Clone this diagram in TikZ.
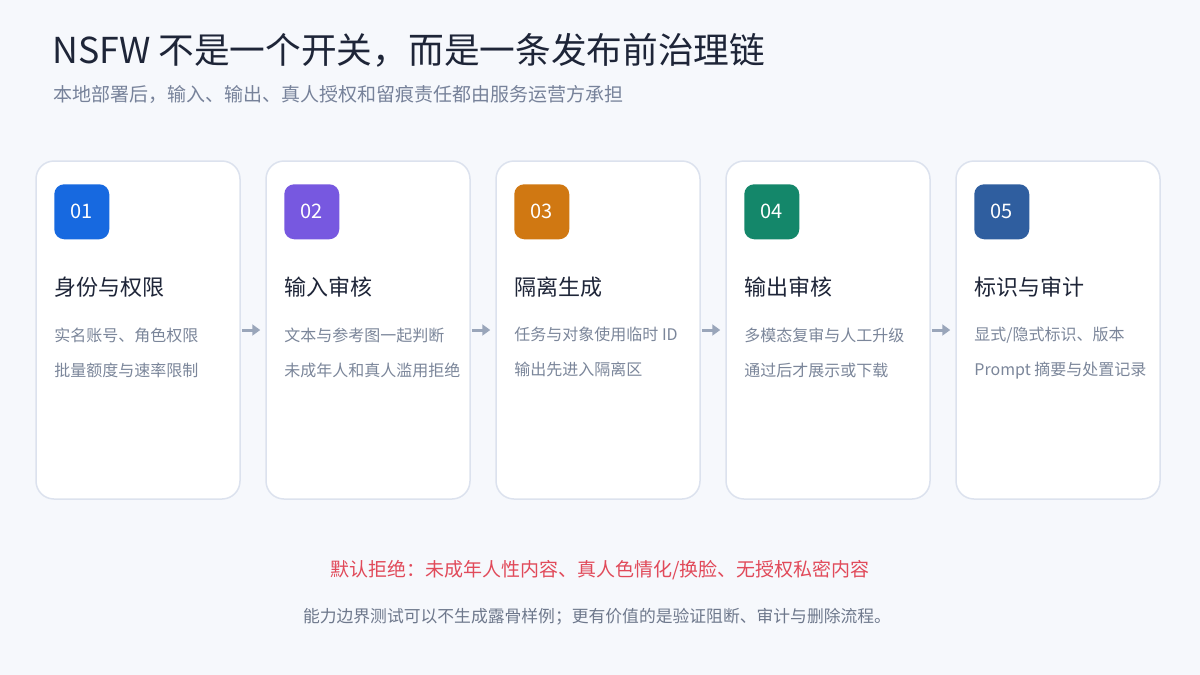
\documentclass[tikz,border=0pt]{standalone}
\usepackage{fontspec}
\setmainfont{Noto Sans CJK SC}
\usepackage{tikz}
\usetikzlibrary{arrows.meta, positioning}
\usepackage{xcolor}

\definecolor{pagebg}{HTML}{F6F8FC}
\definecolor{cardline}{HTML}{DCE2EE}
\definecolor{inkdark}{HTML}{1E2538}
\definecolor{inkgray}{HTML}{77829A}
\definecolor{bodygray}{HTML}{7B869A}
\definecolor{flowgray}{HTML}{9AA6BA}
\definecolor{alertred}{HTML}{E14A5A}
\definecolor{notegray}{HTML}{6E788C}
\definecolor{stepblue}{HTML}{1769E0}
\definecolor{steppurple}{HTML}{7758E0}
\definecolor{steporange}{HTML}{D07812}
\definecolor{stepgreen}{HTML}{14876A}
\definecolor{stepnavy}{HTML}{2F5E9F}

\begin{document}
\begin{tikzpicture}[
        x=1pt, y=-1pt,
        card/.style={draw=cardline, line width=1.5pt, fill=white, rounded corners=18pt, minimum width=204pt, minimum height=338pt, inner sep=0pt},
        badge/.style={rounded corners=10pt, minimum size=55pt, inner sep=0pt, text=white, font=\fontsize{20}{20}\selectfont},
        cardtitle/.style={anchor=west, inner sep=0pt, text=inkdark, font=\fontsize{22}{22}\selectfont},
        cardbody/.style={anchor=north west, inner sep=0pt, align=left, text=bodygray, font=\fontsize{16}{35}\selectfont},
        flow/.style={-{Triangle[length=8pt, width=11pt]}, line width=3pt, draw=flowgray, shorten <=1pt, shorten >=5pt}
    ]
        % Page
        \fill[pagebg] (0,0) rectangle (1200,675);
        \useasboundingbox (0,0) rectangle (1200,675);

        % Heading
        \node (title) [anchor=west, inner sep=0pt, text=inkdark, font=\fontsize{35.7}{35.7}\selectfont] at (52,50) {NSFW 不是一个开关，而是一条发布前治理链};
        \node (subtitle) [anchor=west, inner sep=0pt, text=inkgray, font=\fontsize{19}{19}\selectfont] at (53,94) {本地部署后，输入、输出、真人授权和留痕责任都由服务运营方承担};

        % Cards
        \node (c1) [card] at (138,330) {};
        \node (c2) [card, right=24.5pt of c1] {};
        \node (c3) [card, right=24.5pt of c2] {};
        \node (c4) [card, right=24.5pt of c3] {};
        \node (c5) [card, right=24.5pt of c4] {};

        % Step numbers
        \node (b1) [badge, fill=stepblue] at ([xshift=46.5pt, yshift=-51.5pt]c1.north west) {01};
        \node (b2) [badge, fill=steppurple] at ([xshift=46.5pt, yshift=-51.5pt]c2.north west) {02};
        \node (b3) [badge, fill=steporange] at ([xshift=46.5pt, yshift=-51.5pt]c3.north west) {03};
        \node (b4) [badge, fill=stepgreen] at ([xshift=46.5pt, yshift=-51.5pt]c4.north west) {04};
        \node (b5) [badge, fill=stepnavy] at ([xshift=46.5pt, yshift=-51.5pt]c5.north west) {05};

        % Step titles
        \node (t1) [cardtitle] at ([xshift=19pt, yshift=-127pt]c1.north west) {身份与权限};
        \node (t2) [cardtitle] at ([xshift=19pt, yshift=-127pt]c2.north west) {输入审核};
        \node (t3) [cardtitle] at ([xshift=19pt, yshift=-127pt]c3.north west) {隔离生成};
        \node (t4) [cardtitle] at ([xshift=19pt, yshift=-127pt]c4.north west) {输出审核};
        \node (t5) [cardtitle] at ([xshift=19pt, yshift=-127pt]c5.north west) {标识与审计};

        % Step details
        \node (d1) [cardbody] at ([xshift=19pt, yshift=-167pt]c1.north west) {实名账号、角色权限\\批量额度与速率限制};
        \node (d2) [cardbody] at ([xshift=19pt, yshift=-167pt]c2.north west) {文本与参考图一起判断\\未成年人和真人滥用拒绝};
        \node (d3) [cardbody] at ([xshift=19pt, yshift=-167pt]c3.north west) {任务与对象使用临时 ID\\输出先进入隔离区};
        \node (d4) [cardbody] at ([xshift=19pt, yshift=-167pt]c4.north west) {多模态复审与人工升级\\通过后才展示或下载};
        \node (d5) [cardbody] at ([xshift=19pt, yshift=-167pt]c5.north west) {显式/隐式标识、版本\\Prompt 摘要与处置记录};

        % Flow
        \draw[flow] (c1) -- (c2);
        \draw[flow] (c2) -- (c3);
        \draw[flow] (c3) -- (c4);
        \draw[flow] (c4) -- (c5);

        % Notes
        \node (deny) [inner sep=0pt, text=alertred, font=\fontsize{19}{19}\selectfont] at (600,570) {默认拒绝：未成年人性内容、真人色情化/换脸、无授权私密内容};
        \node (note) [inner sep=0pt, text=notegray, font=\fontsize{16.8}{16.8}\selectfont] at (597,617) {能力边界测试可以不生成露骨样例；更有价值的是验证阻断、审计与删除流程。};

    \end{tikzpicture}
\end{document}
